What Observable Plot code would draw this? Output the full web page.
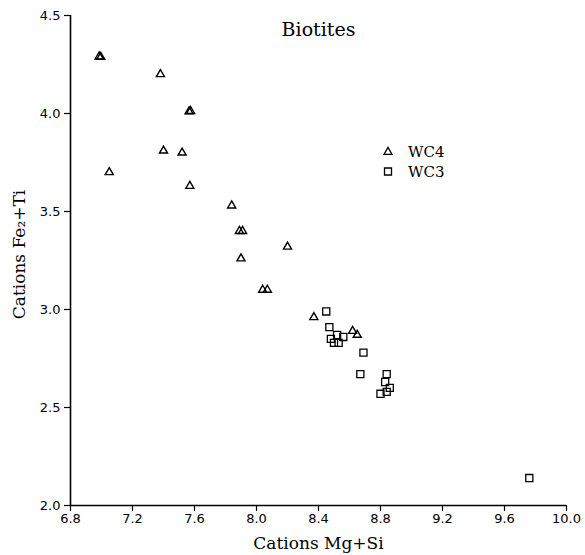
<!DOCTYPE html>
<html><head><meta charset="utf-8">
<script src="https://cdn.jsdelivr.net/npm/d3@7"></script>
<script src="https://cdn.jsdelivr.net/npm/@observablehq/plot@0.6"></script>
<style>
body{margin:0;background:#fff;}
#wrap{position:relative;width:585px;height:555px;}
#legend{position:absolute;left:378px;top:140px;}
</style></head><body><div id="wrap"></div>
<script>
const title = "Biotites";
const xLabel = "Cations Mg+Si";
const yLabel = "Cations Fe₂+Ti";
const xTicks = [6.8, 7.2, 7.6, 8.0, 8.4, 8.8, 9.2, 9.6, 10.0];
const yTicks = [2.0, 2.5, 3.0, 3.5, 4.0, 4.5];
const seriesNames = ["WC4", "WC3"];
const seriesSymbols = ["triangle", "square"];

const wc4X = [6.985, 6.995, 7.38, 7.565, 7.575, 7.40, 7.52, 7.05, 7.57, 7.84, 7.89, 7.91, 8.20, 7.90, 8.04, 8.07, 8.37, 8.62, 8.65];
const wc4Y = [4.29, 4.288, 4.20, 4.01, 4.012, 3.81, 3.80, 3.70, 3.63, 3.53, 3.40, 3.40, 3.32, 3.26, 3.10, 3.10, 2.96, 2.89, 2.87];

const wc3X = [8.45, 8.47, 8.48, 8.52, 8.50, 8.53, 8.56, 8.69, 8.67, 8.84, 8.83, 8.86, 8.80, 8.84, 9.76];
const wc3Y = [2.99, 2.91, 2.85, 2.87, 2.83, 2.83, 2.86, 2.78, 2.67, 2.67, 2.63, 2.60, 2.57, 2.58, 2.14];

const wc4 = wc4X.map((x, i) => ({x, y: wc4Y[i]}));
const wc3 = wc3X.map((x, i) => ({x, y: wc3Y[i]}));

const serif = "DejaVu Serif";
const fmt = d3.format(".1f");

const chart = Plot.plot({
  width: 585,
  height: 555,
  marginLeft: 70,
  marginRight: 19,
  marginTop: 15,
  marginBottom: 50,
  style: {fontFamily: "DejaVu Sans", fontSize: "13px", color: "black", background: "white"},
  x: {domain: [xTicks[0], xTicks[xTicks.length - 1]], label: null},
  y: {domain: [yTicks[0], yTicks[yTicks.length - 1]], label: null},
  marks: [
    Plot.axisX({ticks: xTicks, tickFormat: fmt, tickSize: 6, tickPadding: 2, strokeWidth: 1.2, label: null}),
    Plot.axisY({ticks: yTicks, tickFormat: fmt, tickSize: 6, tickPadding: 4, strokeWidth: 1.2, label: null}),
    Plot.ruleX([xTicks[0]], {stroke: "black", strokeWidth: 1.6}),
    Plot.ruleY([yTicks[0]], {stroke: "black", strokeWidth: 1.6}),
    Plot.dot(wc4, {x: "x", y: "y", symbol: seriesSymbols[0], r: 3.0, stroke: "black", strokeWidth: 1.4, fill: "none"}),
    Plot.dot(wc3, {x: "x", y: "y", symbol: seriesSymbols[1], r: 4.0, stroke: "black", strokeWidth: 1.3, fill: "none"}),
    Plot.text([title], {frameAnchor: "top", lineAnchor: "middle", textAnchor: "middle", dy: 14, fontFamily: serif, fontSize: 19, fill: "black"}),
    Plot.text([xLabel], {frameAnchor: "bottom", lineAnchor: "middle", textAnchor: "middle", dy: 38, fontFamily: serif, fontSize: 17, fill: "black"}),
    Plot.text([yLabel], {frameAnchor: "left", lineAnchor: "middle", textAnchor: "middle", dx: -51, dy: -6, rotate: -90, fontFamily: serif, fontSize: 17, fill: "black"})
  ]
});
const wrap = document.getElementById("wrap");
wrap.appendChild(chart);

// legend overlay
const leg = d3.select(wrap).append("svg").attr("id", "legend").attr("width", 90).attr("height", 45);
const symSizes = [28, 49];
const symTypes = [d3.symbolTriangle, d3.symbolSquare];
seriesNames.forEach((name, i) => {
  const g = leg.append("g").attr("transform", `translate(0,${i * 19.5})`);
  g.append("path").attr("d", d3.symbol(symTypes[i], symSizes[i])()).attr("transform", "translate(10,12)")
    .attr("fill", "none").attr("stroke", "black").attr("stroke-width", 1.3);
  g.append("text").attr("x", 30).attr("y", 17).attr("font-family", serif).attr("font-size", 15).text(name);
});
</script></body></html>
